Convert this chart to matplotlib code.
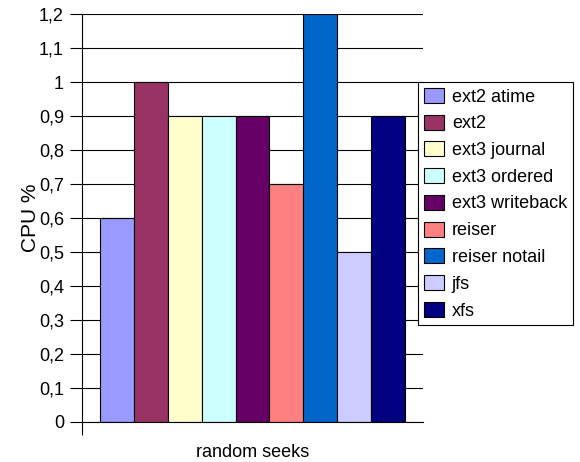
import numpy as np
import matplotlib.pyplot as plt
from matplotlib.patches import Patch

plt.rcParams['font.family'] = ['Liberation Sans', 'DejaVu Sans']

# data
filesystems = ["ext2 atime", "ext2", "ext3 journal", "ext3 ordered", "ext3 writeback",
               "reiser", "reiser notail", "jfs", "xfs"]
cpu = [0.6, 1.0, 0.9, 0.9, 0.9, 0.7, 1.2, 0.5, 0.9]
colors = ["#9999FF", "#993366", "#FFFFCC", "#CCFFFF", "#660066",
          "#FF8080", "#0066CC", "#CCCCFF", "#000080"]
yticks = np.arange(0, 1.21, 0.1)
ytick_labels = ["0", "0,1", "0,2", "0,3", "0,4", "0,5", "0,6", "0,7", "0,8",
                "0,9", "1", "1,1", "1,2"]

fig = plt.figure(figsize=(5.8, 4.62), dpi=100)
ax = fig.add_axes([82/580, 1-422/462, (423-82)/580, (422-14)/462])

x = np.arange(len(cpu))
ax.bar(x, cpu, width=1.0, color=colors, edgecolor="black", linewidth=0.8, zorder=3)

left = -0.5 - 0.53
ax.set_xlim(left, len(cpu) - 0.5 + 0.53)
ax.set_ylim(0, 1.2)
ax.set_yticks(yticks)
ax.set_yticklabels(ytick_labels, fontsize=13)
ax.yaxis.grid(True, color="black", linewidth=0.8, zorder=0)
ax.set_xticks([left])
ax.set_xticklabels([""])
ax.tick_params(axis="both", direction="out", length=9, width=0.8, color="black")
ax.tick_params(axis="y", pad=4)
for s in ["top", "right"]:
    ax.spines[s].set_visible(False)
ax.spines["left"].set_linewidth(0.8)
ax.spines["bottom"].set_linewidth(0.8)
ax.spines["bottom"].set_zorder(4)

ax.set_ylabel("CPU %", fontsize=15, labelpad=-1)
ax.set_xlabel("random seeks", fontsize=13, labelpad=3)

handles = [Patch(facecolor=c, edgecolor="black", linewidth=0.8) for c in colors]
leg = fig.legend(handles, filesystems, loc="upper left",
                 bbox_to_anchor=(418/580, 1-82/462), bbox_transform=fig.transFigure,
                 fontsize=13, frameon=True, fancybox=False, framealpha=1,
                 edgecolor="black", handlelength=1.1, handleheight=0.9,
                 handletextpad=0.45, labelspacing=0.5, borderpad=0.32,
                 borderaxespad=0)
leg.get_frame().set_linewidth(0.8)

fig.savefig("out.png", dpi=100)
